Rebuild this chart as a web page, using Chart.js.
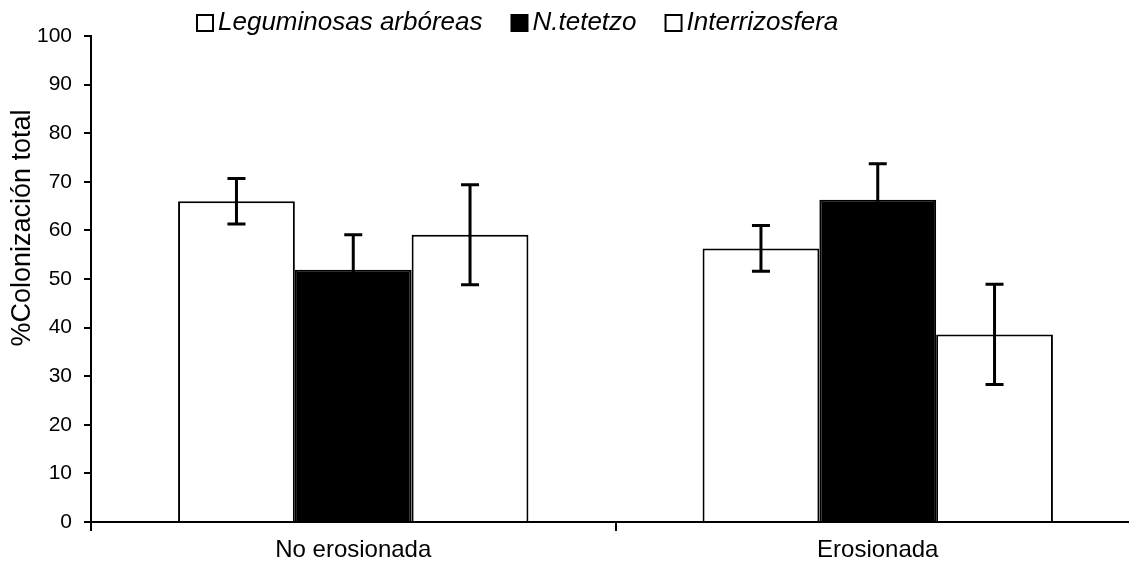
<!DOCTYPE html>
<html>
<head>
<meta charset="utf-8">
<script src="https://cdn.jsdelivr.net/npm/chart.js@4/dist/chart.umd.min.js"></script>
<style>
html,body{margin:0;padding:0;background:#fff;overflow:hidden;}
#wrap{width:1142px;height:571px;}
</style>
</head>
<body>
<div id="wrap"><canvas id="c" width="1142" height="571"></canvas></div>
<script>
const categories = ['No erosionada', 'Erosionada'];
const seriesNames = ['Leguminosas arbóreas', 'N.tetetzo', 'Interrizosfera'];
const leguminosas = [66.0, 56.3];
const leguminosasErr = [4.7, 4.7];
const tetetzo = [51.9, 66.3];
const tetetzoErr = [7.2, 7.4];
const interrizosfera = [59.1, 38.6];
const interrizosferaErr = [10.3, 10.3];
const yTicks = [0, 10, 20, 30, 40, 50, 60, 70, 80, 90, 100];
const yTitle = '%Colonización total';

const FONT = '"Liberation Sans", Arial, sans-serif';
const errors = [leguminosasErr, tetetzoErr, interrizosferaErr];

const errorBarPlugin = {
  id: 'errorBars',
  afterDatasetsDraw(chart) {
    const ctx = chart.ctx;
    const y = chart.scales.y;
    ctx.save();
    ctx.strokeStyle = '#000';
    ctx.lineWidth = 3;
    chart.data.datasets.forEach((ds, i) => {
      const meta = chart.getDatasetMeta(i);
      meta.data.forEach((bar, j) => {
        const v = ds.data[j], e = errors[i][j];
        const yt = y.getPixelForValue(v + e), yb = y.getPixelForValue(v - e);
        const x = bar.x;
        ctx.beginPath();
        ctx.moveTo(x, yt); ctx.lineTo(x, yb);
        ctx.moveTo(x - 9, yt); ctx.lineTo(x + 9, yt);
        ctx.moveTo(x - 9, yb); ctx.lineTo(x + 9, yb);
        ctx.stroke();
      });
    });
    ctx.restore();
  }
};

const legendTitlePlugin = {
  id: 'legendTitle',
  afterDraw(chart) {
    const ctx = chart.ctx;
    ctx.save();
    // legend
    ctx.font = 'italic 26px ' + FONT;
    ctx.textBaseline = 'middle';
    ctx.fillStyle = '#000';
    let x = 197;
    const yc = 23, box = 16;
    chart.data.datasets.forEach((ds, i) => {
      ctx.fillStyle = ds.backgroundColor;
      ctx.fillRect(x, yc - box / 2, box, box);
      ctx.strokeStyle = '#000';
      ctx.lineWidth = 2;
      ctx.strokeRect(x, yc - box / 2, box, box);
      ctx.fillStyle = '#000';
      ctx.textAlign = 'left';
      ctx.fillText(ds.label, x + box + 5, yc);
      x += box + 5 + ctx.measureText(ds.label).width + 29;
    });
    // y title
    ctx.font = '27px ' + FONT;
    ctx.translate(23, 228);
    ctx.rotate(-Math.PI / 2);
    ctx.textAlign = 'center';
    ctx.textBaseline = 'middle';
    ctx.fillText(yTitle, 0, 0);
    ctx.restore();
  }
};

new Chart(document.getElementById('c'), {
  type: 'bar',
  data: {
    labels: categories,
    datasets: [
      { label: seriesNames[0], data: leguminosas, backgroundColor: '#ffffff', borderColor: '#000', borderWidth: 2 },
      { label: seriesNames[1], data: tetetzo, backgroundColor: '#000000', borderColor: '#000', borderWidth: 2 },
      { label: seriesNames[2], data: interrizosfera, backgroundColor: '#ffffff', borderColor: '#000', borderWidth: 2 }
    ]
  },
  options: {
    responsive: false,
    animation: false,
    devicePixelRatio: 1,
    categoryPercentage: 0.668,
    barPercentage: 1.0,
    layout: { padding: { left: 0, right: 2, top: 36, bottom: 0 } },
    plugins: { legend: { display: false }, tooltip: { enabled: false } },
    scales: {
      x: {
        grid: { display: true, offset: true, drawOnChartArea: false, tickLength: 9, color: '#000', lineWidth: 2 },
        border: { display: true, color: '#000', width: 2 },
        ticks: { color: '#000', font: { family: FONT, size: 24 }, padding: 5 },
        afterFit(s) { s.height = 49; }
      },
      y: {
        min: 0, max: 100,
        afterBuildTicks(s) { s.ticks = yTicks.map(v => ({ value: v })); },
        grid: { display: true, drawOnChartArea: false, tickLength: 7, color: '#000', lineWidth: 2 },
        border: { display: true, color: '#000', width: 2 },
        ticks: { color: '#000', font: { family: FONT, size: 21 }, padding: 12 },
        afterFit(s) { s.width = 91; }
      }
    }
  },
  plugins: [errorBarPlugin, legendTitlePlugin]
});
</script>
</body>
</html>
